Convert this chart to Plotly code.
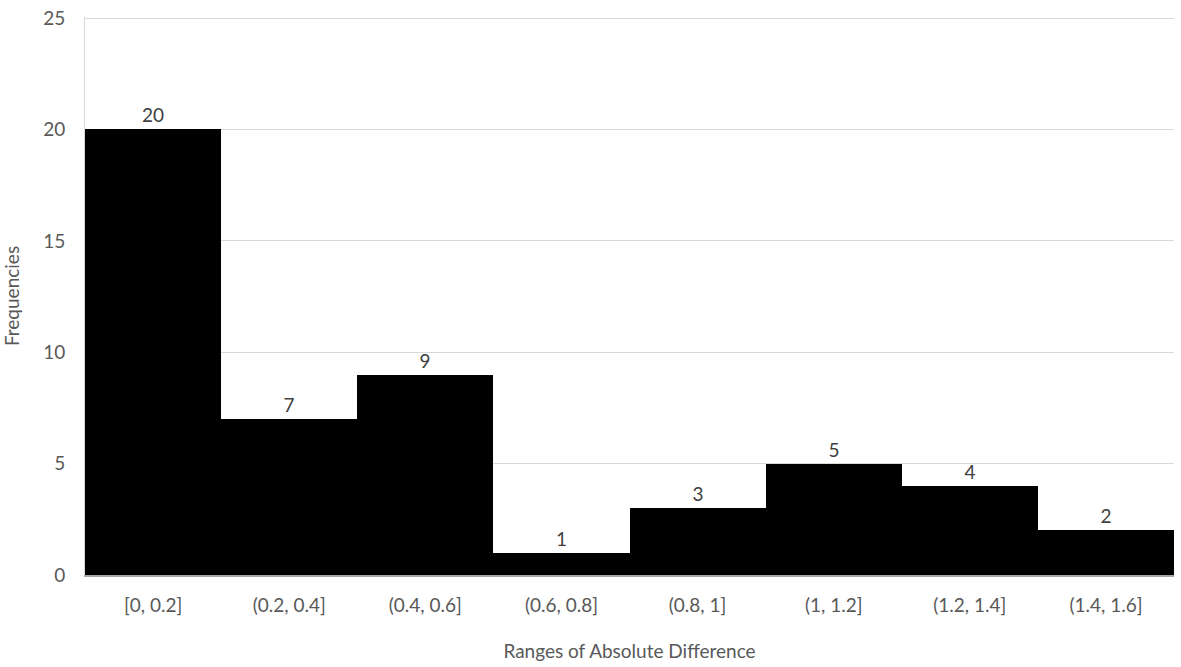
import plotly.graph_objects as go

ranges = ["[0, 0.2]", "(0.2, 0.4]", "(0.4, 0.6]", "(0.6, 0.8]",
          "(0.8, 1]", "(1, 1.2]", "(1.2, 1.4]", "(1.4, 1.6]"]
frequencies = [20, 7, 9, 1, 3, 5, 4, 2]

fig = go.Figure()
fig.add_trace(go.Bar(
    x=ranges,
    y=frequencies,
    text=frequencies,
    textposition="outside",
    cliponaxis=False,
    textfont=dict(size=19, color="#404040"),
    marker=dict(color="#000000", line=dict(width=0)),
    ))

fig.update_layout(width=1181, height=667,
    margin=dict(l=85, r=7, t=17, b=92),
    font=dict(family="Lato, Open Sans, sans-serif", size=19, color="#595959"),
    paper_bgcolor="white",
    plot_bgcolor="white",
    bargap=0,
    showlegend=False)
fig.update_xaxes(
    title=dict(text="Ranges of Absolute Difference", standoff=30,
               font=dict(size=19, color="#595959")),
    automargin=False,
    showline=True,
    linewidth=1.5,
    linecolor='#a6a6a6',
    showgrid=False,
    ticks="",
    ticklabelstandoff=12
)
fig.update_yaxes(
    title=dict(text="Frequencies", standoff=30,
               font=dict(size=19, color="#595959")),
    automargin=False,
    range=[0, 25.05],
    tickvals=[0, 5, 10, 15, 20, 25],
    showline=True,
    linewidth=1,
    linecolor='#d9d9d9',
    showgrid=True,
    gridcolor='#d9d9d9',
    gridwidth=1,
    zeroline=False,
    ticks="",
    ticklabelstandoff=15
)

# drop the browser's default 8px body margin so the figure sits at 0,0
fig.write_html("out.html", config={"displayModeBar": False},
               post_script="document.body.style.margin='0';")
